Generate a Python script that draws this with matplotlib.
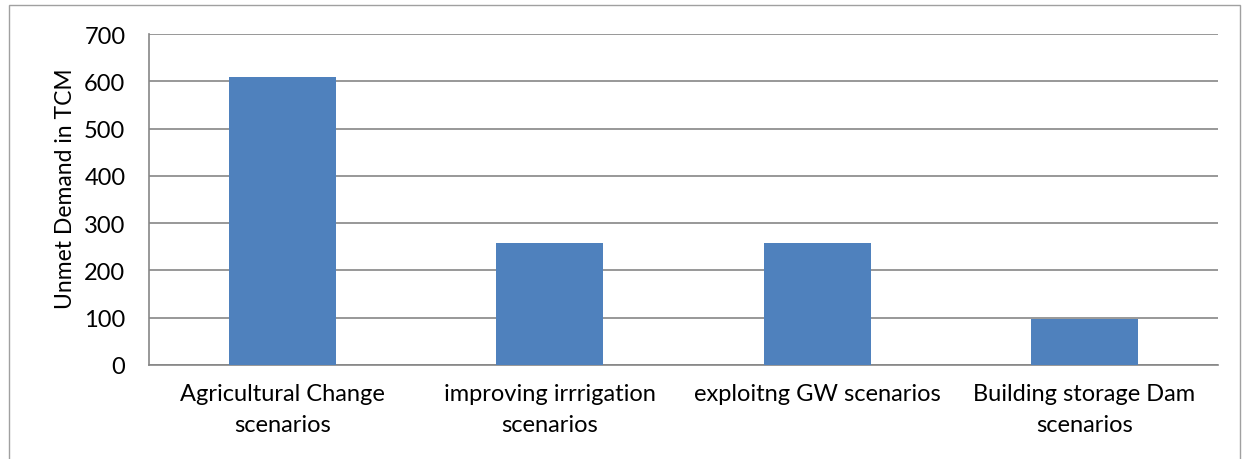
import matplotlib
matplotlib.use("Agg")
import matplotlib.pyplot as plt
from matplotlib.patches import Rectangle
import numpy as np

plt.rcParams['font.family'] = ['Lato', 'DejaVu Sans']

# unmet demand per scenario group (TCM)
scenarios = ["Agricultural Change\nscenarios", "improving irrrigation\nscenarios",
             "exploitng GW scenarios", "Building storage Dam\nscenarios"]
unmet = [610, 257, 257, 97]
yticks = [0, 100, 200, 300, 400, 500, 600, 700]

fig = plt.figure(figsize=(12.44, 4.6), dpi=100)
ax = fig.add_axes([149/1244, 1 - 366/460, (1218 - 149)/1244, (366 - 35)/460])

x = np.arange(len(scenarios))
ax.bar(x, unmet, width=0.4, color="#4F81BD", zorder=3)

ax.set_xlim(-0.5, len(scenarios) - 0.5)
ax.set_ylim(0, 700)
ax.set_yticks(yticks)
ax.set_xticks(x)
ax.set_xticklabels(scenarios, fontsize=17, linespacing=1.6)
ax.tick_params(axis="y", labelsize=17, length=0, pad=17)
ax.tick_params(axis="x", length=0, pad=13)
ax.yaxis.grid(True, color="#868686", linewidth=1.2, zorder=0)
for s in ["top", "right"]:
    ax.spines[s].set_visible(False)
for s in ["left", "bottom"]:
    ax.spines[s].set_color("#868686")
    ax.spines[s].set_linewidth(1.2)
ax.set_ylabel("Unmet Demand in TCM", fontsize=16.5, labelpad=6, y=0.535)

# light frame around the whole chart
fig.patches.append(Rectangle((9/1244, -0.01), (1240 - 9)/1244, 1 - 6/460 + 0.01,
                             transform=fig.transFigure, fill=False,
                             edgecolor="#A0A0A0", linewidth=1))

fig.savefig("out.png", dpi=100)
